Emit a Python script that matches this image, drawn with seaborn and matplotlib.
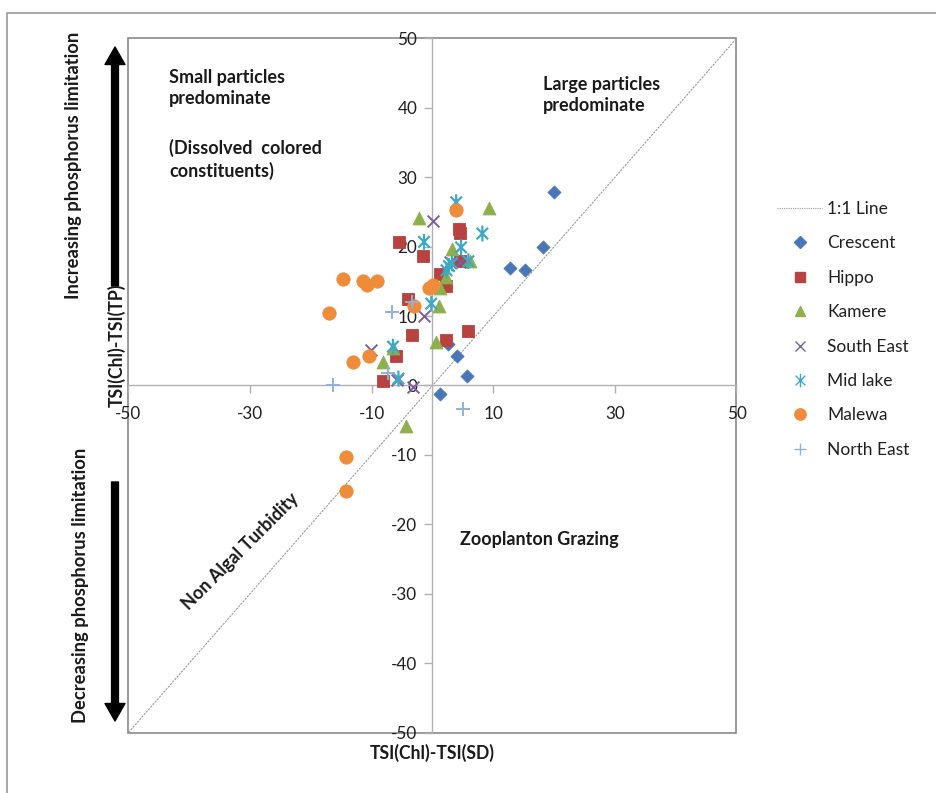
import matplotlib
matplotlib.use("Agg")
import matplotlib.pyplot as plt
import seaborn as sns
import pandas as pd
from matplotlib.path import Path
from matplotlib.lines import Line2D
from matplotlib.patches import Rectangle, FancyArrowPatch

# ---- data: TSI deviations per sampling site ----
sites = ["Crescent", "Hippo", "Kamere", "South East", "Mid lake", "Malewa", "North East"]

crescent_x = [20.0, 18.2, 12.7, 15.2, 4.1, 5.6, 1.3, 2.6]
crescent_y = [27.9, 19.9, 17.0, 16.6, 4.3, 1.4, -1.2, 6.0]

hippo_x = [-5.5, -1.5, -4.0, -3.3, -6.0, -8.1, 4.4, 4.5, 1.2, 2.2, 4.6, 2.3, 5.8]
hippo_y = [20.7, 18.7, 12.4, 7.3, 4.2, 0.7, 22.6, 22.0, 16.0, 14.3, 17.9, 6.6, 7.9]

kamere_x = [-2.2, 9.3, 3.2, 6.2, 1.2, 2.3, 1.1, 0.6, -6.5, -8.1, -4.4]
kamere_y = [24.1, 25.6, 19.6, 18.0, 14.0, 15.7, 11.4, 6.3, 5.4, 3.4, -5.9]

southeast_x = [0.1, -1.4, -10.1, -3.2, 2.8, -5.9, 4.5]
southeast_y = [23.7, 10.0, 5.1, -0.2, 17.8, 0.8, 17.8]

midlake_x = [3.9, 8.2, -1.4, 4.7, 2.7, 2.3, 5.9, -0.2, -6.5, -5.6, 3.2]
midlake_y = [26.4, 21.9, 20.7, 19.9, 17.2, 16.6, 17.9, 11.8, 5.6, 1.0, 17.6]

malewa_x = [-14.7, -11.4, -10.8, -9.1, -17.0, -13.1, -10.4, -3.0, -0.5, 0.1, 3.9, -14.3, -14.3]
malewa_y = [15.4, 15.0, 14.5, 15.1, 10.5, 3.4, 4.3, 11.4, 14.0, 14.5, 25.3, -10.3, -15.2]

northeast_x = [-6.7, -3.4, -16.4, -7.4, 5.0]
northeast_y = [10.6, 12.1, 0.1, 1.8, -3.4]

one_to_one = [-50, 50]
x_ticks = [-50, -30, -10, 10, 30, 50]
y_ticks = [-50, -40, -30, -20, -10, 0, 10, 20, 30, 40, 50]

frames = []
for name, xs, ys in zip(
    sites,
    [crescent_x, hippo_x, kamere_x, southeast_x, midlake_x, malewa_x, northeast_x],
    [crescent_y, hippo_y, kamere_y, southeast_y, midlake_y, malewa_y, northeast_y],
):
    frames.append(pd.DataFrame({"x": xs, "y": ys, "site": name}))
df = pd.concat(frames, ignore_index=True)

# ---- styling ----
sns.set_theme(style="white")
plt.rcParams["font.family"] = ["Lato", "DejaVu Sans"]
plt.rcParams["axes.unicode_minus"] = False

# six-armed asterisk: vertical bar plus an X
asterisk = Path(
    [(0, -1), (0, 1), (-0.72, -0.72), (0.72, 0.72), (-0.72, 0.72), (0.72, -0.72)],
    [Path.MOVETO, Path.LINETO] * 3,
)

# kind: "fill" = solid marker, "line" = line-art marker, "path" = custom open path
styles = {
    "Crescent":   dict(marker="D", color="#4A76B8", s=44, kind="fill"),
    "Hippo":      dict(marker="s", color="#B8423F", s=76, kind="fill"),
    "Kamere":     dict(marker="^", color="#8DB04C", s=86, kind="fill"),
    "South East": dict(marker="x", color="#7B5EA0", s=72, kind="line"),
    "Mid lake":   dict(marker=asterisk, color="#3FA8C4", s=130, kind="path"),
    "Malewa":     dict(marker="o", color="#EE8C3A", s=92, kind="fill"),
    "North East": dict(marker="+", color="#8EB1E0", s=95, kind="line"),
}

W, H = 937, 793
fig = plt.figure(figsize=(W / 100, H / 100), dpi=100)
ax = fig.add_axes([128.5 / W, 1 - 732.5 / H, 608 / W, 694 / H])

# 1:1 reference line
ax.plot(one_to_one, one_to_one, color="#9a9a9a", lw=0.8, ls=(0, (2, 1)), zorder=1)

for name in sites:
    st = styles[name]
    sub = df[df["site"] == name]
    if st["kind"] == "fill":
        sns.scatterplot(data=sub, x="x", y="y", marker=st["marker"], color=st["color"],
                        s=st["s"], edgecolor=st["color"], linewidth=0.6,
                        legend=False, ax=ax, zorder=3)
    elif st["kind"] == "line":
        sns.scatterplot(data=sub, x="x", y="y", marker=st["marker"], color=st["color"],
                        s=st["s"], linewidth=1.4, legend=False, ax=ax, zorder=3)
    else:
        sns.scatterplot(data=sub, x="x", y="y", marker=st["marker"], facecolor="none",
                        edgecolor=st["color"], s=st["s"], linewidth=1.6,
                        legend=False, ax=ax, zorder=3)

ax.set_xlim(-50, 50)
ax.set_ylim(-50, 50)
ax.set_xticks(x_ticks)
ax.set_yticks(y_ticks)
ax.set_xlabel("")
ax.set_ylabel("")

axis_grey = "#b0b0b0"
for side in ["left", "bottom"]:
    ax.spines[side].set_position(("data", 0))
    ax.spines[side].set_color(axis_grey)
    ax.spines[side].set_linewidth(1.0)
for side in ["top", "right"]:
    ax.spines[side].set_visible(False)
ax.add_patch(Rectangle((0, 0), 1, 1, transform=ax.transAxes, fill=False,
                       ec="#8a8a8a", lw=1.2, clip_on=False, zorder=0))

ax.tick_params(axis="both", direction="out", length=6, width=1, color=axis_grey,
               labelsize=12.3, labelcolor="#202020")
ax.tick_params(axis="x", pad=9, bottom=True)
ax.tick_params(axis="y", pad=5, left=True)

# outer chart frame
fig.patches.append(Rectangle((7 / W, -0.1), 1.2, 1.1 - 13 / H, transform=fig.transFigure,
                             fill=False, ec="#9a9a9a", lw=1.2, zorder=0))


def fpx(x, y):
    return x / W, 1 - y / H


txt = dict(color="#1a1a1a", fontweight="bold")

fig.text(*fpx(432, 753), "TSI(Chl)-TSI(SD)", ha="center", va="center", fontsize=12.7, **txt)
fig.text(*fpx(117, 345), "TSI(Chl)-TSI(TP)", ha="center", va="center", rotation=90,
         fontsize=12.7, **txt)
fig.text(*fpx(74, 165), "Increasing phosphorus limitation", ha="center", va="center",
         rotation=90, fontsize=13.2, **txt)
fig.text(*fpx(81, 585), "Decreasing phosphorus limitation", ha="center", va="center",
         rotation=90, fontsize=13.2, **txt)

fig.text(*fpx(169, 69), "Small particles\npredominate", ha="left", va="top",
         fontsize=13, linespacing=1.3, **txt)
fig.text(*fpx(169, 139), "(Dissolved  colored\nconstituents)", ha="left", va="top",
         fontsize=13, linespacing=1.3, **txt)
fig.text(*fpx(543, 76), "Large particles\npredominate", ha="left", va="top",
         fontsize=13, linespacing=1.3, **txt)
fig.text(*fpx(539, 540), "Zooplanton Grazing", ha="center", va="center",
         fontsize=13, **txt)
fig.text(*fpx(240, 551), "Non Algal Turbidity", ha="center", va="center",
         rotation=45, rotation_mode="anchor", fontsize=13, **txt)

# phosphorus-limitation arrows
arrow_kw = dict(arrowstyle="simple,head_width=1.6,head_length=1.4,tail_width=0.55",
                color="black", mutation_scale=9, shrinkA=0, shrinkB=0)
fig.add_artist(FancyArrowPatch(fpx(115, 286), fpx(115, 47),
                               transform=fig.transFigure, **arrow_kw))
fig.add_artist(FancyArrowPatch(fpx(115, 482), fpx(115, 721),
                               transform=fig.transFigure, **arrow_kw))

# legend
handles = [Line2D([0], [0], color="#9a9a9a", lw=0.8, ls=(0, (1, 1)))]
for name in sites:
    st = styles[name]
    ms = st["s"] ** 0.5 * 0.85
    if st["kind"] == "fill":
        handles.append(Line2D([0], [0], ls="none", marker=st["marker"], markersize=ms,
                              markerfacecolor=st["color"], markeredgecolor=st["color"]))
    else:
        handles.append(Line2D([0], [0], ls="none", marker=st["marker"], markersize=ms,
                              markerfacecolor="none", markeredgecolor=st["color"],
                              markeredgewidth=1.0))
labels = ["1:1 Line"] + sites
fig.legend(handles, labels, loc="upper left", bbox_to_anchor=fpx(777, 201),
           frameon=False, fontsize=12.5, handlelength=2.6, handletextpad=0.3,
           labelspacing=1.06, borderpad=0, borderaxespad=0, labelcolor="#202020")

fig.savefig("out.png", dpi=100)
